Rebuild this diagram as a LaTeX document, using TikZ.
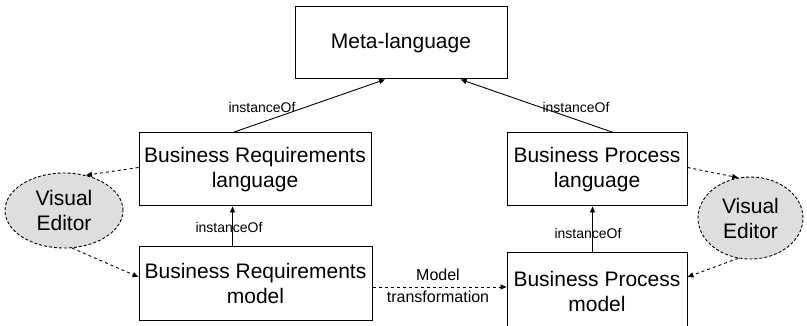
\documentclass[tikz,border=0pt]{standalone}
\usepackage{fontspec}
\setmainfont{Liberation Sans}
\usetikzlibrary{arrows.meta,shapes.geometric,calc}

\begin{document}
\begin{tikzpicture}[x=1pt,y=-1pt,
  box/.style={draw=black, line width=1pt, rectangle, inner sep=0pt, align=center,
              font=\fontsize{21}{25}\selectfont},
  editor/.style={draw=black, line width=0.9pt, dash pattern=on 3pt off 2pt,
                 fill=black!13, ellipse, inner sep=0pt, align=center,
                 font=\fontsize{21}{25}\selectfont},
  lbl/.style={inner sep=0pt, font=\fontsize{14}{16}\selectfont},
  mlbl/.style={inner sep=0pt, align=center, font=\fontsize{16}{22}\selectfont},
  inst/.style={draw=black, line width=0.9pt, -{Triangle[length=6pt,width=5pt]}},
  dasharr/.style={draw=black, line width=0.9pt, dash pattern=on 3pt off 3pt,
                  -{Triangle[length=6pt,width=5pt]}}]

% canvas
\clip (0,0) rectangle (807,326);

% boxes
\node[box, minimum width=212, minimum height=72] (meta) at (401,43) {Meta-language};
\node[box, minimum width=232, minimum height=73] (brl) at (255,169.5) {Business Requirements\\language};
\node[box, minimum width=233, minimum height=73] (brm) at (255.5,283.5) {Business Requirements\\model};
\node[box, minimum width=180, minimum height=73] (bpl) at (597,169.5) {Business Process\\language};
\node[box, minimum width=180, minimum height=77] (bpm) at (597,291.5) {Business Process\\model};

% editors
\node[editor, minimum width=118, minimum height=75] (ve1) at (64,210.5) {Visual\\Editor};
\node[editor, minimum width=105, minimum height=82] (ve2) at (750.5,218) {Visual\\Editor};

% instanceOf links to the meta-language
\draw[inst] ($(brl.north west)!0.405!(brl.north east)$) -- ($(meta.south west)!0.425!(meta.south east)$);
\draw[inst] ($(bpl.north west)!0.59!(bpl.north east)$) -- ($(meta.south west)!0.78!(meta.south east)$);
\node[lbl] (i1) at (262,107) {instanceOf};
\node[lbl] (i2) at (576,107) {instanceOf};

% instanceOf links from models to languages
\draw[inst] ($(brm.north west)+(94,0)$) -- ($(brl.south west)+(94,0)$);
\draw[inst] ($(bpm.north west)+(86,0)$) -- ($(bpl.south west)+(86,0)$);
\node[lbl] (i3) at (229,227) {instanceOf};
\node[lbl] (i4) at (588,233) {instanceOf};

% visual editor links
\draw[dasharr] ($(brl.west)+(0,-2)$) -- (ve1.58);
\draw[dasharr] (ve1.-78) -- ($(brm.west)+(0,-6.5)$);
\draw[dasharr] ($(bpl.east)+(0,-2)$) -- (ve2.107);
\draw[dasharr] (ve2.-107) -- ($(bpm.east)+(0,-14.5)$);

% model transformation
\coordinate (mt) at (0,287);
\draw[dasharr] (brm.east |- mt) -- (bpm.west |- mt);
\node[mlbl] (mtl) at (438,286) {Model\\transformation};
\end{tikzpicture}
\end{document}
